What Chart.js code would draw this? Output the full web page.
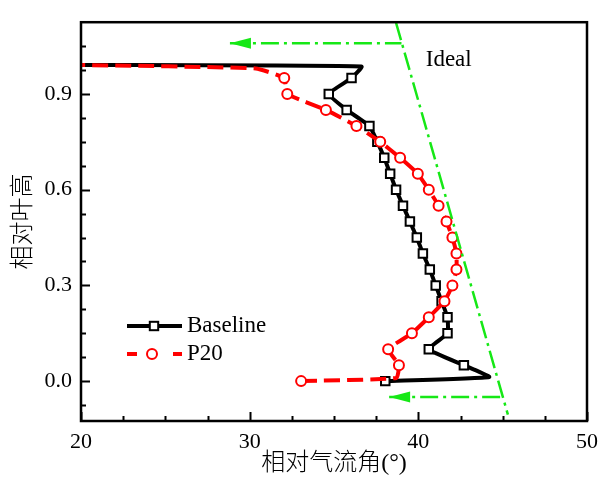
<!DOCTYPE html>
<html>
<head>
<meta charset="utf-8">
<script src="https://cdn.jsdelivr.net/npm/chart.js@4.4.1/dist/chart.umd.min.js"></script>
<style>
  html, body { margin: 0; padding: 0; background: #fff; }
  #wrap { width: 606px; height: 480px; }
</style>
</head>
<body>
<div id="wrap"><canvas id="myChart" width="606" height="480"></canvas></div>
<script>
// relative span (bottom to top) and relative flow angle (deg)
const baselineSpan  = [0, 0.013, 0.05, 0.1, 0.15, 0.2, 0.25, 0.3, 0.35, 0.4, 0.45, 0.5, 0.55, 0.6, 0.65, 0.7, 0.75, 0.8, 0.85, 0.9, 0.95, 0.986, 0.991];
const baselineAngle = [38.04, 44.2, 42.7, 40.62, 41.73, 41.73, 41.38, 41.03, 40.68, 40.27, 39.91, 39.5, 39.09, 38.68, 38.33, 37.98, 37.57, 37.1, 35.75, 34.69, 36.04, 36.63, 20];

const p20Span  = [0, 0.01, 0.05, 0.1, 0.15, 0.2, 0.25, 0.3, 0.35, 0.4, 0.45, 0.5, 0.55, 0.6, 0.65, 0.7, 0.75, 0.8, 0.85, 0.9, 0.95, 0.98, 0.991];
const p20Angle = [33.05, 38.7, 38.85, 38.21, 39.62, 40.62, 41.55, 42.02, 42.26, 42.26, 42.02, 41.67, 41.2, 40.62, 39.97, 38.92, 37.74, 36.33, 34.52, 32.23, 32.05, 30.36, 20];

// "Ideal" guide line and its two arrows
const idealSpan  = [1.123, -0.105];
const idealAngle = [38.68, 45.31];
const arrowTopSpan  = [1.059, 1.059];
const arrowTopAngle = [28.83, 39.0];
const arrowLowSpan  = [-0.05, -0.05];
const arrowLowAngle = [38.27, 44.95];

const xMajorTicks = [20, 30, 40, 50];
const xMinorTicks = [22.5, 25, 27.5, 32.5, 35, 37.5, 42.5, 45, 47.5];
const yMajorTicks = [0, 0.3, 0.6, 0.9];
const yMinorTicks = [-0.075, 0.075, 0.15, 0.225, 0.375, 0.45, 0.525, 0.675, 0.75, 0.825, 0.975, 1.05];

const serif = '"Liberation Serif", "Times New Roman", serif';
const cjk = '"Liberation Serif", "Noto Sans CJK SC", sans-serif';
const green = '#16e816';

function toPoints(xs, ys) {
    return xs.map((x, i) => ({ x: x, y: ys[i] }));
}
function isMarker(y) {
    return Math.abs(y * 20 - Math.round(y * 20)) < 1e-6;
}

// box frame + inward tick marks
const framePlugin = {
    id: 'frame',
    afterDraw(chart) {
        const ctx = chart.ctx;
        const a = chart.chartArea;
        const xs = chart.scales.x, ys = chart.scales.y;
        ctx.save();
        ctx.strokeStyle = '#000';
        ctx.lineWidth = 2.5;
        ctx.strokeRect(a.left, a.top, a.right - a.left, a.bottom - a.top);
        ctx.lineWidth = 2;
        ctx.beginPath();
        xMajorTicks.concat(xMinorTicks).forEach(v => {
            const px = Math.round(xs.getPixelForValue(v)) + 0.5;
            const len = xMajorTicks.includes(v) ? 9 : 5;
            ctx.moveTo(px, a.bottom);
            ctx.lineTo(px, a.bottom - len);
        });
        yMajorTicks.concat(yMinorTicks).forEach(v => {
            const py = Math.round(ys.getPixelForValue(v)) + 0.5;
            const len = yMajorTicks.includes(v) ? 9 : 5;
            ctx.moveTo(a.left, py);
            ctx.lineTo(a.left + len, py);
        });
        ctx.stroke();
        ctx.restore();
    }
};

// arrow heads, legend and the "Ideal" note
const notesPlugin = {
    id: 'notes',
    afterDatasetsDraw(chart) {
        const ctx = chart.ctx;
        ctx.save();
        chart.data.datasets.forEach((ds, i) => {
            if (!ds.arrow) return;
            const p = chart.getDatasetMeta(i).data[0];
            ctx.fillStyle = green;
            ctx.beginPath();
            ctx.moveTo(p.x, p.y);
            ctx.lineTo(p.x + 21, p.y - 5.5);
            ctx.lineTo(p.x + 21, p.y + 5.5);
            ctx.closePath();
            ctx.fill();
        });

        const xs = chart.scales.x, ys = chart.scales.y;
        ctx.fillStyle = '#000';
        ctx.font = '23px ' + serif;
        ctx.textBaseline = 'middle';
        ctx.textAlign = 'left';
        ctx.fillText('Ideal', xs.getPixelForValue(40.44), ys.getPixelForValue(1.007));

        // legend
        const lx0 = 127, lx1 = 182, lm = 154, ly1 = 326, ly2 = 354;
        ctx.strokeStyle = '#000';
        ctx.lineWidth = 4;
        ctx.beginPath();
        ctx.moveTo(lx0, ly1);
        ctx.lineTo(lx1, ly1);
        ctx.stroke();
        ctx.lineWidth = 2;
        ctx.fillStyle = '#fff';
        ctx.fillRect(lm - 4.2, ly1 - 4.2, 8.4, 8.4);
        ctx.strokeRect(lm - 4.2, ly1 - 4.2, 8.4, 8.4);

        ctx.strokeStyle = '#ff0000';
        ctx.lineWidth = 4;
        ctx.beginPath();
        ctx.moveTo(lx0, ly2);
        ctx.lineTo(lx0 + 10, ly2);
        ctx.moveTo(lx1 - 9, ly2);
        ctx.lineTo(lx1, ly2);
        ctx.stroke();
        ctx.lineWidth = 2;
        ctx.beginPath();
        ctx.arc(lm - 2, ly2, 5, 0, Math.PI * 2);
        ctx.fill();
        ctx.stroke();

        ctx.fillStyle = '#000';
        ctx.font = '23px ' + serif;
        ctx.fillText('Baseline', 187, ly1);
        ctx.fillText('P20', 187, ly2);
        ctx.restore();
    }
};

function drawChart() {
    const canvas = document.getElementById('myChart');
    window.myChart = new Chart(canvas.getContext('2d'), {
        type: 'scatter',
        data: {
            datasets: [
                {
                    label: 'Baseline',
                    data: toPoints(baselineAngle, baselineSpan),
                    showLine: true,
                    borderColor: '#000',
                    borderWidth: 4,
                    tension: 0.12,
                    pointStyle: 'rect',
                    pointRadius: ctx => isMarker(ctx.raw.y) ? 6 : 0,
                    pointBorderWidth: 2,
                    pointBorderColor: '#000',
                    pointBackgroundColor: '#fff',
                    order: 3
                },
                {
                    label: 'P20',
                    data: toPoints(p20Angle, p20Span),
                    showLine: true,
                    borderColor: '#ff0000',
                    borderWidth: 4,
                    borderDash: [16, 7],
                    tension: 0.12,
                    pointStyle: 'circle',
                    pointRadius: ctx => isMarker(ctx.raw.y) ? 5 : 0,
                    pointBorderWidth: 2,
                    pointBorderColor: '#ff0000',
                    pointBackgroundColor: '#fff',
                    order: 2
                },
                {
                    label: 'Ideal',
                    data: toPoints(idealAngle, idealSpan),
                    showLine: true,
                    borderColor: green,
                    borderWidth: 2.5,
                    borderDash: [18, 5, 3, 5],
                    pointRadius: 0,
                    order: 1
                },
                {
                    label: 'arrowTop',
                    arrow: true,
                    data: toPoints(arrowTopAngle, arrowTopSpan),
                    showLine: true,
                    borderColor: green,
                    borderWidth: 2.5,
                    borderDash: [18, 5, 3, 5],
                    pointRadius: 0,
                    order: 1
                },
                {
                    label: 'arrowLow',
                    arrow: true,
                    data: toPoints(arrowLowAngle, arrowLowSpan),
                    showLine: true,
                    borderColor: green,
                    borderWidth: 2.5,
                    borderDash: [18, 5, 3, 5],
                    pointRadius: 0,
                    order: 1
                }
            ]
        },
        options: {
            responsive: false,
            animation: false,
            layout: { padding: { top: 10, right: 13, left: 0, bottom: 0 } },
            plugins: {
                legend: { display: false },
                tooltip: { enabled: false },
                title: { display: false }
            },
            scales: {
                x: {
                    type: 'linear',
                    min: 20,
                    max: 50,
                    grid: { display: false, drawTicks: false },
                    border: { display: false },
                    afterBuildTicks: scale => { scale.ticks = xMajorTicks.map(v => ({ value: v })); },
                    afterFit: scale => { scale.height = 59; },
                    ticks: {
                        autoSkip: false,
                        maxRotation: 0,
                        padding: 8,
                        color: '#000',
                        font: { family: serif, size: 22 },
                        callback: v => String(v)
                    },
                    title: {
                        display: true,
                        text: '相对气流角(°)',
                        color: '#000',
                        font: { family: cjk, size: 24, weight: '300' },
                        padding: { top: 0, bottom: 2 }
                    }
                },
                y: {
                    type: 'linear',
                    min: -0.125,
                    max: 1.125,
                    grid: { display: false, drawTicks: false },
                    border: { display: false },
                    afterBuildTicks: scale => { scale.ticks = yMajorTicks.map(v => ({ value: v })); },
                    afterFit: scale => { scale.width = 81; },
                    ticks: {
                        autoSkip: false,
                        padding: 9,
                        color: '#000',
                        font: { family: serif, size: 22 },
                        callback: v => v.toFixed(1)
                    },
                    title: {
                        display: true,
                        text: '相对叶高',
                        color: '#000',
                        font: { family: cjk, size: 24, weight: '300' },
                        padding: { top: 9, bottom: 0 }
                    }
                }
            }
        },
        plugins: [framePlugin, notesPlugin]
    });
}

Promise.all([
    document.fonts.load('22px "Liberation Serif"'),
    document.fonts.load('300 24px "Noto Sans CJK SC"', '相对叶高')
]).then(drawChart, drawChart);
</script>
</body>
</html>
